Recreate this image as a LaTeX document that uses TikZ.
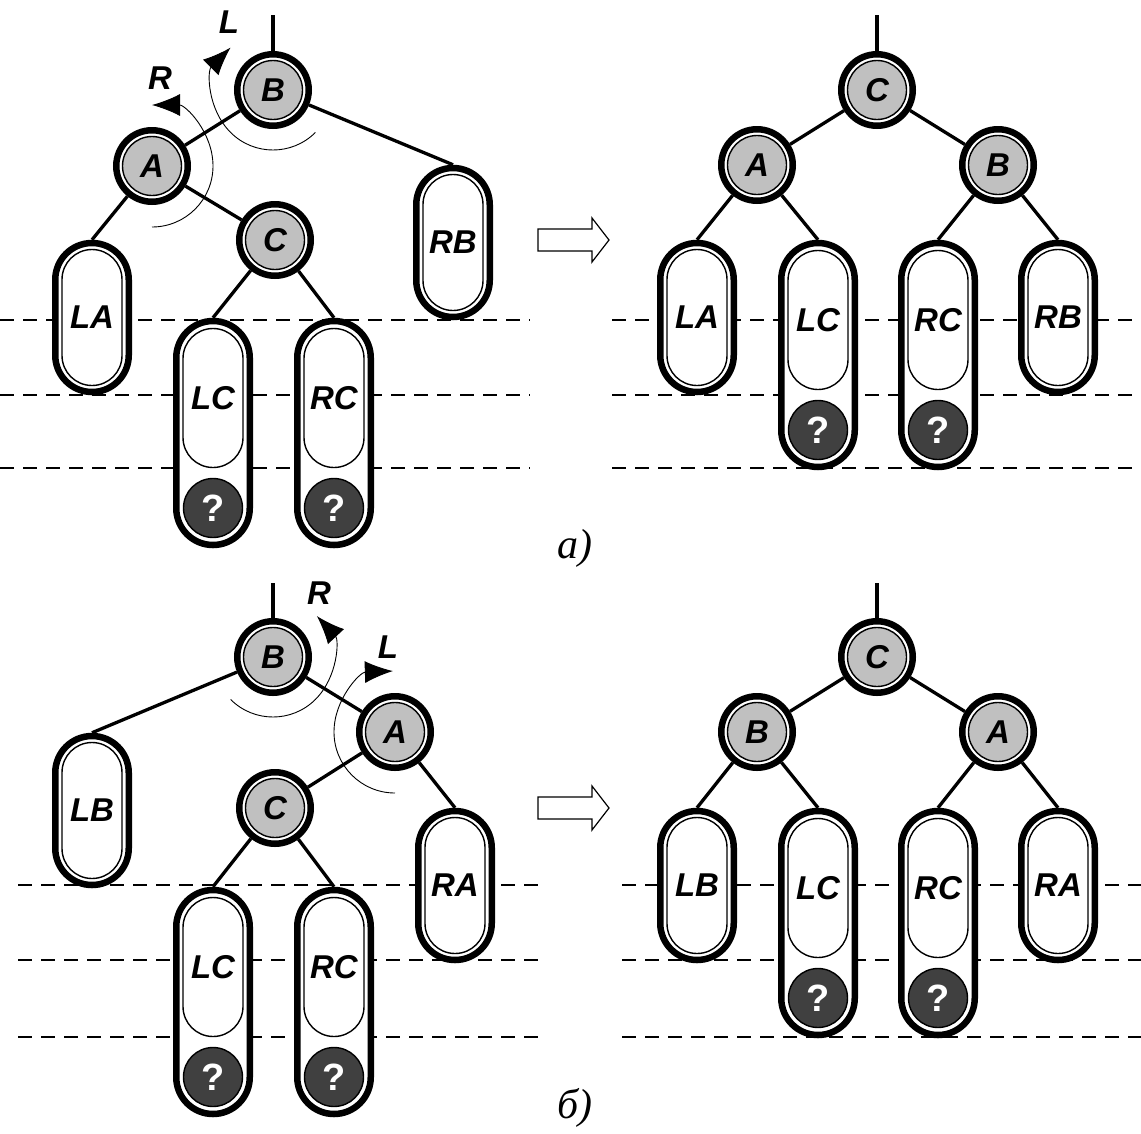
\documentclass[tikz,border=0pt]{standalone}
\usepackage{fontspec}
\setmainfont{Liberation Serif}
\newfontfamily\lblfont{Liberation Sans}
\usetikzlibrary{arrows.meta}
\definecolor{NodeGray}{RGB}{192,192,192}
\definecolor{LeafDark}{RGB}{64,64,64}
\newcommand{\treefont}{\lblfont\bfseries\itshape\fontsize{33}{33}\selectfont}

\tikzset{
	vert/.style={circle, draw, line width=6.5pt, fill=white, minimum size=71.5pt, inner sep=0pt},
	vertin/.style={circle, draw, line width=1.4pt, fill=NodeGray, minimum size=59pt, inner sep=0pt, font=\treefont},
	sub/.style={rectangle, rounded corners=36.75pt, draw, line width=6.5pt, fill=white, minimum width=73.5pt, inner sep=0pt},
	subin/.style={rectangle, rounded corners=30pt, draw, line width=1.4pt, minimum width=60pt, inner sep=0pt, font=\treefont},
	unk/.style={circle, draw, line width=1.4pt, fill=LeafDark, minimum size=59pt, inner sep=0pt, text=white, font=\lblfont\bfseries\fontsize{38}{38}\selectfont},
	edge/.style={line width=3.3pt},
	guide/.style={line width=1.6pt, dash pattern=on 14pt off 9pt},
	rot/.style={line width=0.9pt, -{Latex[length=28pt,width=22pt]}},
	turn/.style={font=\treefont},
	hollow/.style={line width=1.2pt, fill=white},
	caption/.style={font=\itshape\fontsize{42}{42}\selectfont}
}

\begin{document}
\begin{tikzpicture}[x=1pt, y=1pt]
	\useasboundingbox (0,0) rectangle (1141,-1133);
	% levels
	\foreach \y in {320,395,468} {
		\draw[guide] (0,-\y) -- (530,-\y);
		\draw[guide] (612,-\y) -- (1141,-\y);
	}
	\foreach \y in {885,960,1037} {
		\draw[guide] (18,-\y) -- (540,-\y);
		\draw[guide] (622,-\y) -- (1141,-\y);
	}
	% vertices
	\foreach \n/\t/\x/\y in {p1B/B/273/90, p1A/A/152/166, p1C/C/275/240,
		q1C/C/877/90, q1A/A/757/165, q1B/B/998/165,
		p2B/B/273/657, p2A/A/395/732, p2C/C/275/808,
		q2C/C/877/657, q2B/B/757/732, q2A/A/998/732} {
		\node[vert] (\n) at (\x,-\y) {};
		\node[vertin] (\n-in) at (\n) {\t};
	}
	% short subtrees
	\foreach \n/\t/\x/\y in {p1LA/LA/92/240, p1RB/RB/453/165,
		q1LA/LA/697/240, q1RB/RB/1058/240,
		p2LB/LB/92/733, p2RA/RA/455/808,
		q2LB/LB/697/808, q2RA/RA/1058/808} {
		\node[sub, minimum height=149pt] (\n) at (\x,{-\y-77.5}) {};
		\node[subin, minimum height=136pt] (\n-in) at (\n) {\t};
	}
	% grown subtrees
	\foreach \n/\t/\x/\y in {p1LC/LC/213/318, p1RC/RC/334/318,
		q1LC/LC/818/240, q1RC/RC/938/240,
		p2LC/LC/213/887, p2RC/RC/334/887,
		q2LC/LC/818/808, q2RC/RC/938/808} {
		\node[sub, minimum height=224pt] (\n) at (\x,{-\y-115}) {};
		\node[subin, minimum height=139pt] (\n-in) at (\x,{-\y-80}) {\t};
		\node[unk] (\n-q) at (\x,{-\y-190}) {?};
	}
	% links
	\coordinate (p1top) at (273,-15);
	\coordinate (q1top) at (877,-15);
	\coordinate (p2top) at (273,-583);
	\coordinate (q2top) at (877,-583);
	\foreach \u/\v in {p1top/p1B, p1B/p1A, p1A/p1C, q1top/q1C, q1C/q1A, q1C/q1B,
		p2top/p2B, p2B/p2A, p2A/p2C, q2top/q2C, q2C/q2B, q2C/q2A}
		\draw[edge] (\u) -- (\v);
	\foreach \u/\v in {p1B/p1RB, p1A/p1LA, p1C/p1LC, p1C/p1RC,
		q1A/q1LA, q1A/q1LC, q1B/q1RC, q1B/q1RB,
		p2B/p2LB, p2A/p2RA, p2C/p2LC, p2C/p2RC,
		q2B/q2LB, q2B/q2LC, q2A/q2RC, q2A/q2RA}
		\draw[edge] (\u) -- (\v.north);
	% rotations
	\draw[rot] ([shift={(-45:60)}]p1B.center) arc[start angle=-45, end angle=-225, radius=60];
	\draw[rot] ([shift={(-90:61)}]p1A.center) arc[start angle=-90, end angle=90, radius=61];
	\draw[rot] ([shift={(-135:60)}]p2B.center) arc[start angle=-135, end angle=43, radius=60];
	\draw[rot] ([shift={(270:61)}]p2A.center) arc[start angle=270, end angle=92, radius=61];
	\node[turn] (p1L) at (229,-22) {L};
	\node[turn] (p1R) at (160,-78) {R};
	\node[turn] (p2R) at (319,-593) {R};
	\node[turn] (p2L) at (388,-647) {L};
	% transitions
	\draw[hollow] (538,-229) -- ++(54,0) -- ++(0,11) -- ++(17,-22) -- ++(-17,-22) -- ++(0,11) -- ++(-54,0) -- cycle;
	\draw[hollow] (538,-797) -- ++(54,0) -- ++(0,11) -- ++(17,-22) -- ++(-17,-22) -- ++(0,11) -- ++(-54,0) -- cycle;
	\node[caption] (capa) at (575,-548) {а)};
	\node[caption] (capb) at (575,-1108) {б)};
\end{tikzpicture}
\end{document}
